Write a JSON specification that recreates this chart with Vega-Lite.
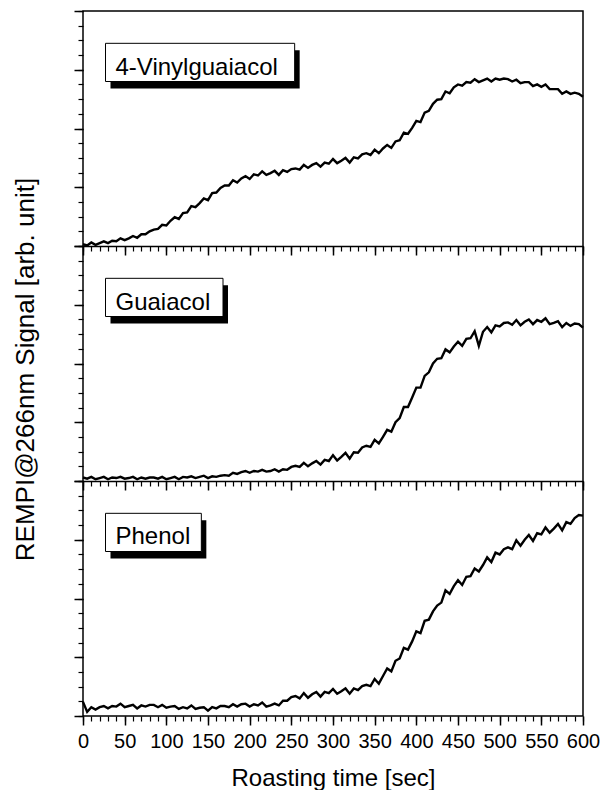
{
  "$schema": "https://vega.github.io/schema/vega-lite/v6.json",
  "padding": {"left": 12, "top": 10, "right": 8, "bottom": 0},
  "background": "white",
  "width": 500,
  "height": 705,
  "config": {
    "font": "Liberation Sans",
    "view": {"stroke": "black", "strokeWidth": 1.5},
    "axis": {"grid": false, "domain": false, "tickColor": "black", "domainColor": "black", "labelColor": "black", "titleColor": "black", "titleFontWeight": "normal"}
  },
  "datasets": {
    "sig": [
      {"t":0,"a":0.03,"b":0.06,"c":0.24},{"t":5,"a":0.01,"b":0.04,"c":0.07},{"t":10,"a":0.06,"b":0.07,"c":0.15},{"t":15,"a":0.02,"b":0.03,"c":0.11},
      {"t":20,"a":0.05,"b":0.05,"c":0.15},{"t":25,"a":0.08,"b":0.07,"c":0.17},{"t":30,"a":0.05,"b":0.03,"c":0.13},{"t":35,"a":0.09,"b":0.06,"c":0.17},
      {"t":40,"a":0.08,"b":0.05,"c":0.16},{"t":45,"a":0.13,"b":0.07,"c":0.21},{"t":50,"a":0.10,"b":0.04,"c":0.15},{"t":55,"a":0.13,"b":0.05,"c":0.17},
      {"t":60,"a":0.17,"b":0.07,"c":0.19},{"t":65,"a":0.14,"b":0.03,"c":0.13},{"t":70,"a":0.20,"b":0.06,"c":0.18},{"t":75,"a":0.20,"b":0.04,"c":0.16},
      {"t":80,"a":0.25,"b":0.06,"c":0.19},{"t":85,"a":0.28,"b":0.06,"c":0.19},{"t":90,"a":0.29,"b":0.04,"c":0.15},{"t":95,"a":0.36,"b":0.07,"c":0.19},
      {"t":100,"a":0.35,"b":0.03,"c":0.14},{"t":105,"a":0.43,"b":0.05,"c":0.16},{"t":110,"a":0.49,"b":0.07,"c":0.17},{"t":115,"a":0.46,"b":0.03,"c":0.12},
      {"t":120,"a":0.56,"b":0.07,"c":0.15},{"t":125,"a":0.57,"b":0.06,"c":0.13},{"t":130,"a":0.68,"b":0.08,"c":0.18},{"t":135,"a":0.66,"b":0.05,"c":0.12},
      {"t":140,"a":0.73,"b":0.07,"c":0.14},{"t":145,"a":0.81,"b":0.09,"c":0.15},{"t":150,"a":0.78,"b":0.05,"c":0.09},{"t":155,"a":0.90,"b":0.08,"c":0.15},
      {"t":160,"a":0.91,"b":0.07,"c":0.13},{"t":165,"a":0.99,"b":0.09,"c":0.17},{"t":170,"a":1.03,"b":0.10,"c":0.17},{"t":175,"a":1.03,"b":0.09,"c":0.15},
      {"t":180,"a":1.12,"b":0.14,"c":0.20},{"t":185,"a":1.08,"b":0.12,"c":0.16},{"t":190,"a":1.15,"b":0.15,"c":0.20},{"t":195,"a":1.19,"b":0.17,"c":0.21},
      {"t":200,"a":1.14,"b":0.14,"c":0.16},{"t":205,"a":1.22,"b":0.17,"c":0.20},{"t":210,"a":1.20,"b":0.16,"c":0.18},{"t":215,"a":1.27,"b":0.19,"c":0.23},
      {"t":220,"a":1.21,"b":0.16,"c":0.16},{"t":225,"a":1.24,"b":0.17,"c":0.18},{"t":230,"a":1.28,"b":0.20,"c":0.21},{"t":235,"a":1.21,"b":0.16,"c":0.18},
      {"t":240,"a":1.29,"b":0.20,"c":0.26},{"t":245,"a":1.26,"b":0.19,"c":0.26},{"t":250,"a":1.31,"b":0.24,"c":0.32},{"t":255,"a":1.32,"b":0.26,"c":0.34},
      {"t":260,"a":1.30,"b":0.24,"c":0.30},{"t":265,"a":1.38,"b":0.31,"c":0.39},{"t":270,"a":1.33,"b":0.25,"c":0.31},{"t":275,"a":1.38,"b":0.30,"c":0.37},
      {"t":280,"a":1.41,"b":0.34,"c":0.41},{"t":285,"a":1.35,"b":0.28,"c":0.33},{"t":290,"a":1.42,"b":0.36,"c":0.41},{"t":295,"a":1.40,"b":0.34,"c":0.39},
      {"t":300,"a":1.48,"b":0.44,"c":0.46},{"t":305,"a":1.41,"b":0.35,"c":0.38},{"t":310,"a":1.45,"b":0.41,"c":0.42},{"t":315,"a":1.50,"b":0.48,"c":0.47},
      {"t":320,"a":1.42,"b":0.38,"c":0.38},{"t":325,"a":1.51,"b":0.49,"c":0.47},{"t":330,"a":1.49,"b":0.48,"c":0.44},{"t":335,"a":1.56,"b":0.57,"c":0.51},
      {"t":340,"a":1.58,"b":0.60,"c":0.53},{"t":345,"a":1.55,"b":0.58,"c":0.51},{"t":350,"a":1.64,"b":0.70,"c":0.63},{"t":355,"a":1.58,"b":0.64,"c":0.55},
      {"t":360,"a":1.66,"b":0.75,"c":0.68},{"t":365,"a":1.72,"b":0.87,"c":0.81},{"t":370,"a":1.67,"b":0.84,"c":0.76},{"t":375,"a":1.78,"b":1.00,"c":0.94},
      {"t":380,"a":1.80,"b":1.07,"c":0.98},{"t":385,"a":1.93,"b":1.26,"c":1.16},{"t":390,"a":1.91,"b":1.26,"c":1.13},{"t":395,"a":2.01,"b":1.42,"c":1.27},
      {"t":400,"a":2.13,"b":1.59,"c":1.44},{"t":405,"a":2.11,"b":1.59,"c":1.41},{"t":410,"a":2.27,"b":1.79,"c":1.62},{"t":415,"a":2.30,"b":1.85,"c":1.64},
      {"t":420,"a":2.42,"b":2.00,"c":1.78},{"t":425,"a":2.49,"b":2.08,"c":1.88},{"t":430,"a":2.50,"b":2.09,"c":1.93},{"t":435,"a":2.63,"b":2.24,"c":2.14},
      {"t":440,"a":2.60,"b":2.19,"c":2.08},{"t":445,"a":2.70,"b":2.29,"c":2.21},{"t":450,"a":2.75,"b":2.37,"c":2.31},{"t":455,"a":2.73,"b":2.30,"c":2.23},
      {"t":460,"a":2.79,"b":2.42,"c":2.37},{"t":465,"a":2.78,"b":2.43,"c":2.38},{"t":470,"a":2.84,"b":2.55,"c":2.51},{"t":475,"a":2.79,"b":2.30,"c":2.46},
      {"t":480,"a":2.82,"b":2.54,"c":2.57},{"t":485,"a":2.85,"b":2.62,"c":2.70},{"t":490,"a":2.80,"b":2.53,"c":2.62},{"t":495,"a":2.85,"b":2.65,"c":2.78},
      {"t":500,"a":2.83,"b":2.63,"c":2.75},{"t":505,"a":2.85,"b":2.69,"c":2.84},{"t":510,"a":2.84,"b":2.70,"c":2.87},{"t":515,"a":2.80,"b":2.66,"c":2.84},
      {"t":520,"a":2.83,"b":2.74,"c":2.99},{"t":525,"a":2.77,"b":2.65,"c":2.90},{"t":530,"a":2.79,"b":2.71,"c":3.00},{"t":535,"a":2.79,"b":2.75,"c":3.08},
      {"t":540,"a":2.72,"b":2.67,"c":2.98},{"t":545,"a":2.75,"b":2.74,"c":3.11},{"t":550,"a":2.71,"b":2.71,"c":3.09},{"t":555,"a":2.75,"b":2.77,"c":3.21},
      {"t":560,"a":2.67,"b":2.67,"c":3.12},{"t":565,"a":2.67,"b":2.69,"c":3.19},{"t":570,"a":2.67,"b":2.72,"c":3.27},{"t":575,"a":2.59,"b":2.62,"c":3.16},
      {"t":580,"a":2.63,"b":2.69,"c":3.30},{"t":585,"a":2.59,"b":2.64,"c":3.27},{"t":590,"a":2.61,"b":2.68,"c":3.37},{"t":595,"a":2.59,"b":2.67,"c":3.42},
      {"t":600,"a":2.54,"b":2.61,"c":3.41}
    ],
    "lab1": [{"label": "4-Vinylguaiacol", "t0": 27, "t1": 254, "v0": 3.45, "v1": 2.8}],
    "lab2": [{"label": "Guaiacol", "t0": 27, "t1": 168, "v0": 3.45, "v1": 2.8}],
    "lab3": [{"label": "Phenol", "t0": 27, "t1": 142, "v0": 3.45, "v1": 2.8}]
  },
  "layer": [
    {"data": {"name": "sig"}, "mark": {"type": "line", "color": "black", "strokeWidth": 2.4, "strokeJoin": "miter"},
     "encoding": {
       "x": {"field": "t", "type": "quantitative", "scale": {"domain": [0, 600], "nice": false},
             "axis": {"orient": "bottom", "offset": -470, "domain": true, "domainWidth": 1.5, "values": [0,50,100,150,200,250,300,350,400,450,500,550,600], "tickSize": 9, "tickWidth": 1.5, "labels": false, "title": null}},
       "y": {"field": "a", "type": "quantitative", "scale": {"domain": [0, 4], "range": [235, 0], "nice": false},
             "axis": {"orient": "left", "values": [0,1,2,3,4], "tickSize": 9, "tickWidth": 1.5, "labels": false, "title": null}}}},
    {"data": {"name": "lab1"},
     "mark": {"type": "rect", "color": "black", "xOffset": 5, "x2Offset": 5, "yOffset": 7, "y2Offset": 7},
     "encoding": {
       "x": {"field": "t0", "type": "quantitative", "scale": {"domain": [0, 600], "nice": false},
             "axis": {"orient": "bottom", "offset": -470, "values": [0,10,20,30,40,50,60,70,80,90,100,110,120,130,140,150,160,170,180,190,200,210,220,230,240,250,260,270,280,290,300,310,320,330,340,350,360,370,380,390,400,410,420,430,440,450,460,470,480,490,500,510,520,530,540,550,560,570,580,590,600], "tickSize": 5, "tickWidth": 1.2, "labels": false, "title": null}},
       "x2": {"field": "t1"},
       "y": {"field": "v0", "type": "quantitative", "scale": {"domain": [0, 4], "range": [235, 0], "nice": false},
             "axis": {"orient": "left", "values": [0,0.25,0.5,0.75,1,1.25,1.5,1.75,2,2.25,2.5,2.75,3,3.25,3.5,3.75,4], "tickSize": 5, "tickWidth": 1.2, "labels": false, "title": null}},
       "y2": {"field": "v1"}}},
    {"data": {"name": "lab1"},
     "mark": {"type": "rect", "fill": "white", "stroke": "black", "strokeWidth": 1},
     "encoding": {
       "x": {"field": "t0", "type": "quantitative", "scale": {"domain": [0, 600], "nice": false}, "axis": null},
       "x2": {"field": "t1"},
       "y": {"field": "v0", "type": "quantitative", "scale": {"domain": [0, 4], "range": [235, 0], "nice": false}, "axis": null},
       "y2": {"field": "v1"}}},
    {"data": {"name": "lab1"},
     "mark": {"type": "text", "align": "left", "baseline": "alphabetic", "dx": 10, "dy": -7, "fontSize": 24, "color": "black"},
     "encoding": {
       "x": {"field": "t0", "type": "quantitative", "scale": {"domain": [0, 600], "nice": false}, "axis": null},
       "y": {"field": "v1", "type": "quantitative", "scale": {"domain": [0, 4], "range": [235, 0], "nice": false}, "axis": null},
       "text": {"field": "label"}}},

    {"data": {"name": "sig"}, "mark": {"type": "line", "color": "black", "strokeWidth": 2.4, "strokeJoin": "miter"},
     "encoding": {
       "x": {"field": "t", "type": "quantitative", "scale": {"domain": [0, 600], "nice": false},
             "axis": {"orient": "bottom", "offset": -235, "domain": true, "domainWidth": 1.5, "values": [0,50,100,150,200,250,300,350,400,450,500,550,600], "tickSize": 9, "tickWidth": 1.5, "labels": false, "title": null}},
       "y": {"field": "b", "type": "quantitative", "scale": {"domain": [0, 4], "range": [470, 235], "nice": false},
             "axis": {"orient": "left", "values": [0,1,2,3,4], "tickSize": 9, "tickWidth": 1.5, "labels": false,
                      "title": "REMPI@266nm Signal [arb. unit]", "titleFontSize": 26, "titlePadding": 35, "titleY": 358}}}},
    {"data": {"name": "lab2"},
     "mark": {"type": "rect", "color": "black", "xOffset": 5, "x2Offset": 5, "yOffset": 7, "y2Offset": 7},
     "encoding": {
       "x": {"field": "t0", "type": "quantitative", "scale": {"domain": [0, 600], "nice": false},
             "axis": {"orient": "bottom", "offset": -235, "values": [0,10,20,30,40,50,60,70,80,90,100,110,120,130,140,150,160,170,180,190,200,210,220,230,240,250,260,270,280,290,300,310,320,330,340,350,360,370,380,390,400,410,420,430,440,450,460,470,480,490,500,510,520,530,540,550,560,570,580,590,600], "tickSize": 5, "tickWidth": 1.2, "labels": false, "title": null}},
       "x2": {"field": "t1"},
       "y": {"field": "v0", "type": "quantitative", "scale": {"domain": [0, 4], "range": [470, 235], "nice": false},
             "axis": {"orient": "left", "values": [0,0.25,0.5,0.75,1,1.25,1.5,1.75,2,2.25,2.5,2.75,3,3.25,3.5,3.75,4], "tickSize": 5, "tickWidth": 1.2, "labels": false, "title": null}},
       "y2": {"field": "v1"}}},
    {"data": {"name": "lab2"},
     "mark": {"type": "rect", "fill": "white", "stroke": "black", "strokeWidth": 1},
     "encoding": {
       "x": {"field": "t0", "type": "quantitative", "scale": {"domain": [0, 600], "nice": false}, "axis": null},
       "x2": {"field": "t1"},
       "y": {"field": "v0", "type": "quantitative", "scale": {"domain": [0, 4], "range": [470, 235], "nice": false}, "axis": null},
       "y2": {"field": "v1"}}},
    {"data": {"name": "lab2"},
     "mark": {"type": "text", "align": "left", "baseline": "alphabetic", "dx": 10, "dy": -7, "fontSize": 24, "color": "black"},
     "encoding": {
       "x": {"field": "t0", "type": "quantitative", "scale": {"domain": [0, 600], "nice": false}, "axis": null},
       "y": {"field": "v1", "type": "quantitative", "scale": {"domain": [0, 4], "range": [470, 235], "nice": false}, "axis": null},
       "text": {"field": "label"}}},

    {"data": {"name": "sig"}, "mark": {"type": "line", "color": "black", "strokeWidth": 2.4, "strokeJoin": "miter"},
     "encoding": {
       "x": {"field": "t", "type": "quantitative", "scale": {"domain": [0, 600], "nice": false},
             "axis": {"orient": "bottom", "values": [0,50,100,150,200,250,300,350,400,450,500,550,600], "tickSize": 9, "tickWidth": 1.5,
                      "labelFontSize": 20, "labelPadding": 6, "labelOverlap": false, "labelFlush": false,
                      "title": "Roasting time [sec]", "titleFontSize": 24, "titlePadding": 15}},
       "y": {"field": "c", "type": "quantitative", "scale": {"domain": [0, 4], "range": [705, 470], "nice": false},
             "axis": {"orient": "left", "values": [0,1,2,3,4], "tickSize": 9, "tickWidth": 1.5, "labels": false, "title": null}}}},
    {"data": {"name": "lab3"},
     "mark": {"type": "rect", "color": "black", "xOffset": 5, "x2Offset": 5, "yOffset": 7, "y2Offset": 7},
     "encoding": {
       "x": {"field": "t0", "type": "quantitative", "scale": {"domain": [0, 600], "nice": false},
             "axis": {"orient": "bottom", "values": [0,10,20,30,40,50,60,70,80,90,100,110,120,130,140,150,160,170,180,190,200,210,220,230,240,250,260,270,280,290,300,310,320,330,340,350,360,370,380,390,400,410,420,430,440,450,460,470,480,490,500,510,520,530,540,550,560,570,580,590,600], "tickSize": 5, "tickWidth": 1.2, "labels": false, "title": null}},
       "x2": {"field": "t1"},
       "y": {"field": "v0", "type": "quantitative", "scale": {"domain": [0, 4], "range": [705, 470], "nice": false},
             "axis": {"orient": "left", "values": [0,0.25,0.5,0.75,1,1.25,1.5,1.75,2,2.25,2.5,2.75,3,3.25,3.5,3.75,4], "tickSize": 5, "tickWidth": 1.2, "labels": false, "title": null}},
       "y2": {"field": "v1"}}},
    {"data": {"name": "lab3"},
     "mark": {"type": "rect", "fill": "white", "stroke": "black", "strokeWidth": 1},
     "encoding": {
       "x": {"field": "t0", "type": "quantitative", "scale": {"domain": [0, 600], "nice": false}, "axis": null},
       "x2": {"field": "t1"},
       "y": {"field": "v0", "type": "quantitative", "scale": {"domain": [0, 4], "range": [705, 470], "nice": false}, "axis": null},
       "y2": {"field": "v1"}}},
    {"data": {"name": "lab3"},
     "mark": {"type": "text", "align": "left", "baseline": "alphabetic", "dx": 10, "dy": -8, "fontSize": 24, "color": "black"},
     "encoding": {
       "x": {"field": "t0", "type": "quantitative", "scale": {"domain": [0, 600], "nice": false}, "axis": null},
       "y": {"field": "v1", "type": "quantitative", "scale": {"domain": [0, 4], "range": [705, 470], "nice": false}, "axis": null},
       "text": {"field": "label"}}}
  ],
  "resolve": {"scale": {"y": "independent"}, "axis": {"x": "independent", "y": "independent"}}
}
